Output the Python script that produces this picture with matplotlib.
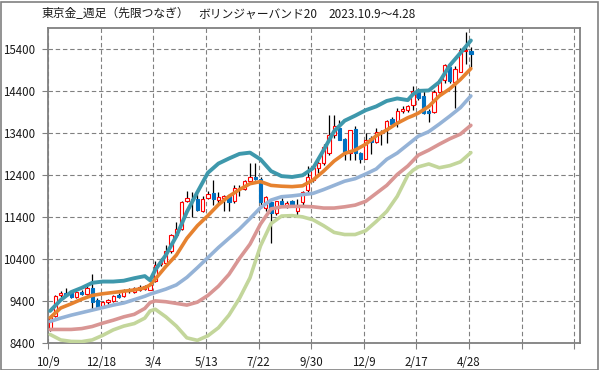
import matplotlib
matplotlib.use("Agg")
import matplotlib.pyplot as plt
from matplotlib.patches import Rectangle
import numpy as np

plt.rcParams['font.family'] = ['Noto Sans CJK JP', 'DejaVu Sans']

# 週足ローソク (open, high, low, close)
opens = [8720, 9040, 9540, 9600, 9600, 9510, 9630, 9570, 9725, 9440,
         9300, 9380, 9400, 9540, 9520, 9640, 9630, 9680, 9690, 9680,
         9890, 10280, 10320, 10600, 10980, 11130, 11790, 11830, 11830, 11560,
         11870, 11990, 11820, 11860, 11910, 11780, 12080, 12070, 12265, 12360,
         12310, 11610, 11760, 11500, 11790, 11670, 11790, 11560, 11770, 12050,
         12290, 12566, 12690, 12924, 13360, 13520, 13257, 12924, 13495, 12925,
         12800, 13280, 13200, 13400, 13480, 13730, 13650, 13920, 13960, 14070,
         14380, 14280, 13940, 13910, 14390, 14670, 14980, 14630, 14870, 15350,
         15370]
highs = [9060, 9560, 9640, 9720, 9650, 9670, 9680, 9760, 10040, 9490,
         9400, 9450, 9560, 9590, 9690, 9710, 9740, 9780, 9790, 9830,
         10360, 10420, 10740, 11000, 11300, 11800, 12020, 12000, 11950, 11900,
         12020, 12290, 12000, 11940, 11950, 12170, 12180, 12300, 12690, 12700,
         12360, 11900, 11800, 11800, 11850, 11780, 11820, 11840, 12030, 12630,
         12600, 12780, 13150, 13840, 13840, 13710, 13300, 13480, 13575, 12960,
         13400, 13330, 13520, 13480, 13720, 13780, 14000, 14050, 14080, 14520,
         14480, 14400, 13990, 14420, 14700, 15050, 15050, 15000, 15420, 15810,
         15450]
lows = [8700, 9020, 9500, 9540, 9480, 9480, 9550, 9550, 9200, 9250,
        9280, 9340, 9380, 9480, 9500, 9600, 9600, 9650, 9660, 9660,
        9870, 10250, 10300, 10560, 10940, 11100, 11760, 11410, 11550, 11520,
        11830, 11690, 11740, 11560, 11560, 11740, 11900, 12050, 12240, 12300,
        11610, 11560, 10800, 11450, 11680, 11620, 11640, 11460, 11700, 12000,
        12250, 12450, 12650, 12880, 13300, 13230, 12765, 12765, 12765, 12690,
        12780, 12900, 13160, 13130, 13180, 13580, 13540, 13880, 13900, 13960,
        14200, 13860, 13680, 13880, 14350, 14600, 14600, 14000, 14850, 15040,
        14990]
closes = [9030, 9530, 9600, 9560, 9510, 9630, 9570, 9725, 9390, 9270,
          9380, 9430, 9530, 9500, 9670, 9680, 9710, 9750, 9760, 9800,
          10260, 10350, 10600, 10970, 11110, 11770, 11850, 11820, 11570, 11840,
          11950, 11830, 11890, 11900, 11770, 12090, 12100, 12265, 12360, 12320,
          11760, 11880, 11500, 11790, 11710, 11750, 11670, 11650, 11995, 12370,
          12566, 12686, 13080, 13360, 13580, 13240, 12963, 13480, 12924, 12780,
          13240, 13200, 13440, 13440, 13700, 13620, 13920, 13980, 14040, 14410,
          14240, 13890, 13890, 14390, 14667, 15020, 14640, 14930, 15380, 15380,
          15290]

# ボリンジャーバンドの読み取り位置 (週の番号)
band_idx = [0, 2, 4, 6, 8, 10, 12, 14, 16, 18, 19, 20, 22, 24, 26, 28, 30, 32, 34, 36,
            38, 40, 42, 44, 46, 48, 50, 52, 54, 56, 58, 60, 62, 64, 66, 68, 69, 70,
            72, 74, 76, 78, 80]
plus1 = [9170, 9430, 9620, 9720, 9840, 9870, 9870, 9890, 9950, 10000, 9900, 10150,
         10500, 10950, 11530, 12000, 12460, 12680, 12800, 12910, 12940, 12780, 12500,
         12380, 12360, 12400, 12570, 13000, 13450, 13700, 13820, 13950, 14040, 14170,
         14230, 14190, 14330, 14410, 14420, 14620, 15020, 15310, 15610]
ma20 = [9010, 9240, 9340, 9450, 9540, 9580, 9610, 9640, 9670, 9720, 9790, 9930,
        10230, 10500, 10900, 11200, 11440, 11700, 11900, 12060, 12200, 12250, 12160,
        12140, 12130, 12150, 12290, 12500, 12740, 12920, 13000, 13140, 13340, 13480,
        13640, 13770, 13820, 13880, 14040, 14290, 14460, 14680, 14940]
minus1 = [8920, 9000, 9070, 9130, 9190, 9250, 9310, 9360, 9440, 9520, 9570, 9610,
          9690, 9790, 9970, 10200, 10440, 10680, 10900, 11120, 11370, 11630, 11810,
          11890, 11910, 11940, 11970, 12060, 12160, 12260, 12320, 12430, 12550, 12780,
          12930, 13130, 13230, 13330, 13440, 13620, 13810, 14010, 14290]
minus2 = [8730, 8730, 8730, 8750, 8800, 8880, 8950, 9030, 9090, 9230, 9370, 9410,
          9390, 9350, 9310, 9380, 9540, 9760, 10040, 10420, 10760, 11240, 11600,
          11650, 11660, 11660, 11650, 11620, 11620, 11650, 11690, 11780, 11970, 12160,
          12420, 12620, 12750, 12880, 13000, 13140, 13270, 13380, 13590]
minus3 = [8610, 8480, 8445, 8440, 8480, 8590, 8720, 8810, 8870, 9000, 9170, 9210,
          9030, 8810, 8530, 8470, 8580, 8770, 9070, 9470, 9960, 10720, 11250,
          11430, 11440, 11410, 11340, 11200, 11040, 10990, 10990, 11080, 11300, 11540,
          11900, 12400, 12520, 12600, 12670, 12580, 12630, 12720, 12940]

xtick_labels = ['10/9', '12/18', '3/4', '5/13', '7/22', '9/30', '12/9', '2/17', '4/28', '', '']
ytick_vals = [8400, 9400, 10400, 11400, 12400, 13400, 14400, 15400]

fig = plt.figure(figsize=(5.99, 3.70), dpi=100)
ax = fig.add_axes([48.3 / 599, 1 - 343.3 / 370, (580 - 48.3) / 599, (343.3 - 28.3) / 370])

off = 0.35  # candles sit a little right of the week tick
xc = np.arange(len(opens)) + off
o = np.array(opens)
c = np.array(closes)
up = c >= o

ax.vlines(xc, lows, highs, color='black', linewidth=0.9, zorder=2)
ax.bar(xc[up], (c - o)[up], bottom=o[up], width=0.62, facecolor='white',
       edgecolor='#FF0000', linewidth=0.8, zorder=3)
ax.bar(xc[~up], (o - c)[~up], bottom=c[~up], width=0.62, facecolor='#0070C0',
       edgecolor='#0070C0', linewidth=0.8, zorder=3)

bx = np.array(band_idx) + off
ax.plot(bx, minus3, color='#C3D69B', linewidth=2.6, zorder=4, solid_capstyle='round')
ax.plot(bx, minus2, color='#D99694', linewidth=2.6, zorder=4, solid_capstyle='round')
ax.plot(bx, minus1, color='#95B3D7', linewidth=2.6, zorder=4, solid_capstyle='round')
ax.plot(bx, ma20, color='#E6822F', linewidth=2.6, zorder=5, solid_capstyle='round')
ax.plot(bx, plus1, color='#3E98AC', linewidth=2.8, zorder=5, solid_capstyle='round')

ax.set_xlim(0, 101.1)
ax.set_ylim(8400, 15900)
ax.set_xticks(np.arange(0, 101, 10))
ax.set_xticklabels(xtick_labels)
ax.set_yticks(ytick_vals)
ax.set_yticklabels([str(v) for v in ytick_vals])
ax.tick_params(axis='both', direction='out', length=4, width=0.8, color='#808080',
               labelsize=8.3, labelcolor='#1a1a1a')
ax.tick_params(axis='y', pad=5.5)
ax.tick_params(axis='x', pad=5)
ax.grid(True, color='#808080', linestyle=(0, (4, 2.5)), linewidth=0.8, zorder=1)
ax.set_axisbelow(True)
for s in ax.spines.values():
    s.set_color('#808080')
    s.set_linewidth(1.3)

fig.text(42 / 599, 1 - 14 / 370, '東京金_週足（先限つなぎ）', fontsize=8.5, va='center', ha='left', color='#1a1a1a')
fig.text(198 / 599, 1 - 14 / 370, 'ボリンジャーバンド20', fontsize=8.5, va='center', ha='left', color='#1a1a1a')
fig.text(328 / 599, 1 - 14 / 370, '2023.10.9〜4.28', fontsize=8.5, va='center', ha='left', color='#1a1a1a')

fig.patches.append(Rectangle((0.5 / 599, 0.5 / 370), 597 / 599, 368 / 370, transform=fig.transFigure,
                             fill=False, edgecolor='#808080', linewidth=1.2))

fig.savefig('out.png', dpi=100)
